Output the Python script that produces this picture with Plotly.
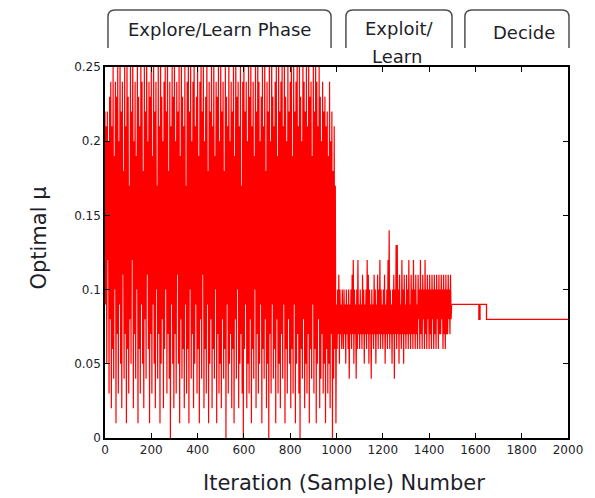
import plotly.graph_objects as go

# ---------------- data ----------------
explore_step = 2.5
explore_vals = [
    0.22,0.09,0.21,0.05,0.22,0.12,0.20,0.03,0.23,0.08,0.24,0.02,0.21,0.06,0.25,0.04,0.19,0.10,0.24,0.01,
    0.23,0.07,0.25,0.03,0.20,0.09,0.26,0.05,0.22,0.02,0.24,0.11,0.18,0.04,0.25,0.07,0.21,0.01,0.26,0.06,
    0.23,0.03,0.17,0.08,0.25,0.05,0.22,0.12,0.26,0.02,0.20,0.07,0.24,0.04,0.19,0.10,0.25,0.01,0.23,0.06,
    0.21,0.03,0.26,0.09,0.24,0.05,0.18,0.02,0.25,0.08,0.22,0.04,0.26,0.11,0.20,0.06,0.24,0.01,0.23,0.07,
    0.25,0.03,0.19,0.09,0.26,0.05,0.22,0.02,0.24,0.10,0.17,0.04,0.25,0.07,0.21,0.01,0.26,0.05,0.23,0.08,
    0.20,0.02,0.24,0.06,0.25,0.10,0.22,0.03,0.26,0.07,0.18,0.04,0.24,0.00,0.21,0.09,0.25,0.05,0.23,0.02,
    0.26,0.07,0.20,0.03,0.24,0.11,0.22,0.05,0.25,0.01,0.19,0.08,0.26,0.04,0.23,0.06,0.21,0.02,0.25,0.09,
    0.17,0.03,0.24,0.06,0.26,0.01,0.22,0.10,0.25,0.04,0.20,0.07,0.24,0.02,0.26,0.05,0.21,0.09,0.23,0.03,
    0.25,0.06,0.19,0.01,0.24,0.08,0.26,0.04,0.22,0.11,0.25,0.02,0.20,0.06,0.23,0.03,0.26,0.09,0.18,0.01,
    0.24,0.05,0.22,0.08,0.25,0.02,0.21,0.06,0.26,0.04,0.19,0.10,0.24,0.01,0.23,0.07,0.25,0.03,0.20,0.05,
    0.26,0.02,0.22,0.08,0.24,0.04,0.18,0.06,0.25,0.00,0.23,0.09,0.21,0.03,0.26,0.05,0.20,0.07,0.24,0.02,
    0.22,0.06,0.25,0.01,0.19,0.08,0.26,0.04,0.23,0.10,0.24,0.02,0.21,0.05,0.25,0.07,0.17,0.03,0.24,0.00,
    0.26,0.06,0.22,0.09,0.24,0.02,0.20,0.05,0.25,0.03,0.23,0.08,0.26,0.01,0.21,0.06,0.24,0.04,0.19,0.10,
    0.25,0.02,0.22,0.07,0.26,0.03,0.24,0.05,0.20,0.09,0.23,0.01,0.25,0.06,0.21,0.04,0.26,0.08,0.18,0.02,
    0.24,0.05,0.22,0.00,0.25,0.07,0.20,0.03,0.26,0.09,0.23,0.04,0.21,0.06,0.24,0.01,0.25,0.08,0.19,0.03,
    0.26,0.05,0.22,0.02,0.24,0.07,0.25,0.04,0.21,0.09,0.26,0.01,0.23,0.06,0.20,0.03,0.25,0.08,0.22,0.05,
    0.24,0.02,0.26,0.06,0.19,0.03,0.25,0.09,0.22,0.01,0.24,0.05,0.26,0.07,0.21,0.03,0.25,0.00,0.23,0.06,
    0.20,0.04,0.26,0.08,0.24,0.02,0.22,0.05,0.25,0.03,0.21,0.07,0.26,0.01,0.23,0.06,0.24,0.04,0.19,0.09,
    0.25,0.03,0.22,0.06,0.26,0.01,0.24,0.05,0.21,0.08,0.25,0.02,0.23,0.04,0.20,0.07,0.24,0.03,0.22,0.05,
    0.23,0.01,0.21,0.06,0.22,0.03,0.19,0.05,0.24,0.02,0.20,0.07,0.22,0.00,0.18,0.04,0.21,0.06,0.17,0.01,
]
exploit_start = 1000
exploit_step = 2.5
exploit_vals = [
    0.09,0.06,0.10,0.07,0.11,0.05,0.10,0.07,0.09,0.06,0.10,0.08,0.06,0.10,0.07,0.09,0.05,0.10,0.07,0.09,
    0.06,0.10,0.04,0.09,0.07,0.10,0.06,0.11,0.07,0.12,0.05,0.10,0.07,0.09,0.04,0.10,0.06,0.12,0.07,0.09,
    0.06,0.10,0.07,0.09,0.06,0.11,0.07,0.10,0.05,0.09,0.07,0.10,0.06,0.12,0.07,0.11,0.05,0.10,0.07,0.09,
    0.04,0.10,0.07,0.09,0.06,0.11,0.07,0.10,0.05,0.09,0.07,0.11,0.06,0.10,0.07,0.12,0.06,0.10,0.07,0.09,
    0.06,0.10,0.07,0.11,0.05,0.09,0.07,0.10,0.06,0.12,0.07,0.14,0.06,0.10,0.07,0.09,0.05,0.10,0.07,0.11,
    0.04,0.10,0.07,0.13,0.06,0.13,0.07,0.10,0.05,0.11,0.07,0.09,0.06,0.12,0.07,0.10,0.05,0.11,0.07,0.09,
    0.06,0.11,0.07,0.10,0.06,0.12,0.07,0.09,0.06,0.11,0.07,0.10,0.06,0.12,0.07,0.10,0.06,0.11,0.07,0.09,
    0.06,0.11,0.08,0.10,0.06,0.12,0.07,0.10,0.06,0.11,0.08,0.10,0.06,0.12,0.07,0.10,0.06,0.11,0.08,0.10,
    0.06,0.11,0.07,0.10,0.06,0.11,0.08,0.10,0.06,0.11,0.07,0.10,0.06,0.11,0.08,0.10,0.06,0.11,0.07,0.10,
    0.07,0.11,0.08,0.10,0.06,0.11,0.07,0.10,0.06,0.11,0.07,0.10,0.07,0.11,0.08,0.10,0.07,0.11,0.08,0.09,
]
decide_x = [1497.5, 1615, 1620, 1648, 2000]
decide_y = [0.09, 0.08, 0.09, 0.08, 0.08]

x_ticks = [0, 200, 400, 600, 800, 1000, 1200, 1400, 1600, 1800, 2000]
y_ticks = [0, 0.05, 0.1, 0.15, 0.2, 0.25]
y_tick_labels = ["0", "0.05", "0.1", "0.15", "0.2", "0.25"]

phase_labels = ["Explore/Learn Phase", "Exploit/", "Learn", "Decide"]

# ---------------- build ----------------
explore_x = [i * explore_step for i in range(len(explore_vals))]
exploit_x = [exploit_start + i * exploit_step for i in range(len(exploit_vals))]

RED = "#ff0000"
fig = go.Figure()
fig.add_trace(go.Scatter(x=explore_x + exploit_x, y=explore_vals + exploit_vals,
                         mode="lines", line=dict(color=RED, width=1.2),
                         showlegend=False, hoverinfo="skip"))
fig.add_trace(go.Scatter(x=decide_x, y=decide_y, mode="lines",
                         line=dict(color=RED, width=1.3, shape="hv"),
                         showlegend=False, hoverinfo="skip"))

# plot area in pixels
L, R, T, B = 105, 572, 67, 438
W, H = R - L, B - T


def px(xp):
    return (xp - L) / W


def py(yp):
    return (B - yp) / H


TXT = "#1e1e2a"
FONT = "DejaVu Sans"

fig.update_layout(
    width=595, height=498,
    margin=dict(l=L, r=595 - R, t=T, b=498 - B),
    paper_bgcolor="white", plot_bgcolor="white",
    font=dict(family=FONT, color=TXT),
    xaxis=dict(range=[0, 2000], tickvals=x_ticks, ticks="inside", ticklen=5,
               tickcolor="black", mirror="ticks", showline=True, linecolor="black",
               linewidth=1.5, showgrid=False, zeroline=False,
               tickfont=dict(size=12, family=FONT, color=TXT)),
    yaxis=dict(range=[0, 0.25], tickvals=y_ticks, ticktext=y_tick_labels,
               ticks="inside", ticklen=5, tickcolor="black", mirror="ticks",
               showline=True, linecolor="black", linewidth=1.5, showgrid=False,
               zeroline=False, tickfont=dict(size=12, family=FONT, color=TXT)),
)

# axis titles
fig.add_annotation(text="Optimal μ", xref="paper", yref="paper", x=px(38), y=py(238),
                   xanchor="center", yanchor="middle",
                   showarrow=False, textangle=-90, font=dict(size=21, family=FONT, color=TXT))
fig.add_annotation(text="Iteration (Sample) Number", xref="paper", yref="paper",
                   x=px(346), y=py(483), xanchor="center", yanchor="middle", showarrow=False,
                   font=dict(size=21, family=FONT, color=TXT))

# phase brackets
brackets = [(108, 333), (348, 455), (468, 573)]
ytop, ybot, rad = 10, 48, 7
for x0p, x1p in brackets:
    x0, x1 = px(x0p), px(x1p)
    yt, yb = py(ytop), py(ybot)
    rx, ry = rad / W, rad / H
    path = (f"M {x0},{yb} L {x0},{yt - ry} Q {x0},{yt} {x0 + rx},{yt} "
            f"L {x1 - rx},{yt} Q {x1},{yt} {x1},{yt - ry} L {x1},{yb}")
    fig.add_shape(type="path", path=path, xref="paper", yref="paper",
                  line=dict(color="#505050", width=1.5))

label_pos = [(220, 29), (402, 28), (400, 56), (528, 33)]
for txt, (xp_, yp_) in zip(phase_labels, label_pos):
    fig.add_annotation(text=txt, xref="paper", yref="paper", x=px(xp_), y=py(yp_),
                       xanchor="center", yanchor="middle",
                       showarrow=False, font=dict(size=18, family=FONT, color=TXT))

fig.write_html("out.html")
